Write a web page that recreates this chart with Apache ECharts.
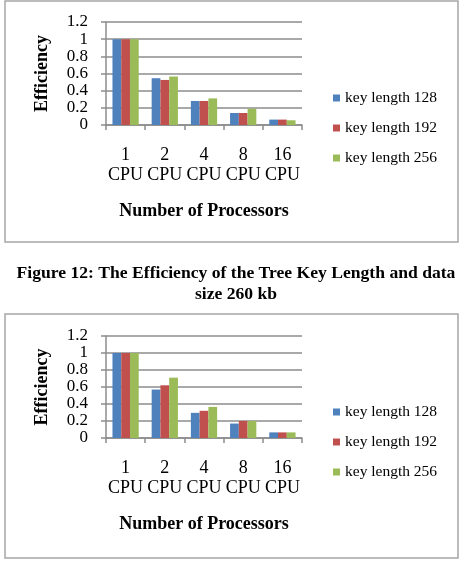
<!DOCTYPE html>
<html>
<head>
<meta charset="utf-8">
<script src="https://cdn.jsdelivr.net/npm/echarts@6/dist/echarts.min.js"></script>
<style>
	html, body { margin: 0; padding: 0; background: #fff; }
	#main { width: 461px; height: 561px; }
</style>
</head>
<body>
<div id="main"></div>
<script>
var categories = ['1 CPU', '2 CPU', '4 CPU', '8 CPU', '16 CPU'];
var seriesNames = ['key length 128', 'key length 192', 'key length 256'];
var yTicks = [0, 0.2, 0.4, 0.6, 0.8, 1, 1.2];

// top chart
var top128 = [1, 0.545, 0.28, 0.14, 0.063];
var top192 = [1, 0.525, 0.28, 0.14, 0.063];
var top256 = [1, 0.565, 0.31, 0.19, 0.055];

// bottom chart
var bot128 = [1, 0.57, 0.296, 0.17, 0.066];
var bot192 = [1, 0.62, 0.32, 0.20, 0.066];
var bot256 = [1, 0.71, 0.366, 0.20, 0.066];

var captionLines = ['Figure 12: The Efficiency of the Tree Key Length and data', 'size 260 kb'];

var font = '"Liberation Serif", "Times New Roman", serif';
var colors = ['#4F81BD', '#C0504D', '#9BBB59'];
var gridColor = '#8c8c8c';

function xAxisFor(idx) {
	return {
		type: 'category',
		gridIndex: idx,
		data: categories,
		name: 'Number of Processors',
		nameLocation: 'middle',
		nameGap: 77,
		nameTextStyle: { fontFamily: font, fontSize: 18, fontWeight: 'bold', color: '#000' },
		axisLine: { lineStyle: { color: gridColor, width: 1.5 } },
		axisTick: { show: true, length: 5, lineStyle: { color: gridColor, width: 1.5 } },
		axisLabel: {
			interval: 0,
			fontFamily: font, fontSize: 18, color: '#000', lineHeight: 20, margin: 20,
			formatter: function (v) { return v.replace(' ', '\n'); }
		}
	};
}

function yAxisFor(idx) {
	return {
		type: 'value',
		gridIndex: idx,
		min: yTicks[0],
		max: yTicks[yTicks.length - 1],
		interval: yTicks[1] - yTicks[0],
		name: 'Efficiency',
		nameLocation: 'middle',
		nameGap: 55,
		nameTextStyle: { fontFamily: font, fontSize: 18, fontWeight: 'bold', color: '#000' },
		axisLine: { show: true, lineStyle: { color: gridColor, width: 1.5 } },
		axisTick: { show: true, length: 5, lineStyle: { color: gridColor, width: 1.5 } },
		axisLabel: {
			fontFamily: font, fontSize: 17, color: '#000', margin: 18, lineHeight: 12,
			showMinLabel: true, showMaxLabel: true
		},
		splitLine: { lineStyle: { color: gridColor, width: 1.5 } }
	};
}

function barSeries(name, data, idx, color) {
	return {
		name: name,
		type: 'bar',
		xAxisIndex: idx,
		yAxisIndex: idx,
		data: data,
		barGap: '0%',
		barCategoryGap: '33%',
		itemStyle: { color: color }
	};
}

function legendAt(top) {
	return {
		orient: 'vertical',
		left: 328,
		top: top,
		itemWidth: 7,
		itemHeight: 7,
		itemGap: 14,
		icon: 'rect',
		data: seriesNames,
		textStyle: { fontFamily: font, fontSize: 15.5, color: '#000', lineHeight: 16 }
	};
}

var chart = echarts.init(document.getElementById('main'));

chart.setOption({
	animation: false,
	color: colors,
	title: [{
		text: captionLines.join('\n'),
		left: 231,
		top: 258,
		textAlign: 'center',
		textStyle: { fontFamily: font, fontSize: 17.6, fontWeight: 'bold', color: '#000', lineHeight: 21 }
	}],
	graphic: [
		{ type: 'rect', shape: { x: 5, y: 1, width: 453, height: 241 }, style: { fill: 'none', stroke: '#a6a6a6', lineWidth: 1.5 } },
		{ type: 'rect', shape: { x: 5, y: 314, width: 453, height: 244 }, style: { fill: 'none', stroke: '#a6a6a6', lineWidth: 1.5 } }
	],
	legend: [legendAt(85), legendAt(399)],
	grid: [
		{ left: 106, top: 22, width: 196, height: 103 },
		{ left: 106, top: 336, width: 196, height: 102 }
	],
	xAxis: [xAxisFor(0), xAxisFor(1)],
	yAxis: [yAxisFor(0), yAxisFor(1)],
	series: [
		barSeries(seriesNames[0], top128, 0, colors[0]),
		barSeries(seriesNames[1], top192, 0, colors[1]),
		barSeries(seriesNames[2], top256, 0, colors[2]),
		barSeries(seriesNames[0], bot128, 1, colors[0]),
		barSeries(seriesNames[1], bot192, 1, colors[1]),
		barSeries(seriesNames[2], bot256, 1, colors[2])
	]
});
</script>
</body>
</html>
